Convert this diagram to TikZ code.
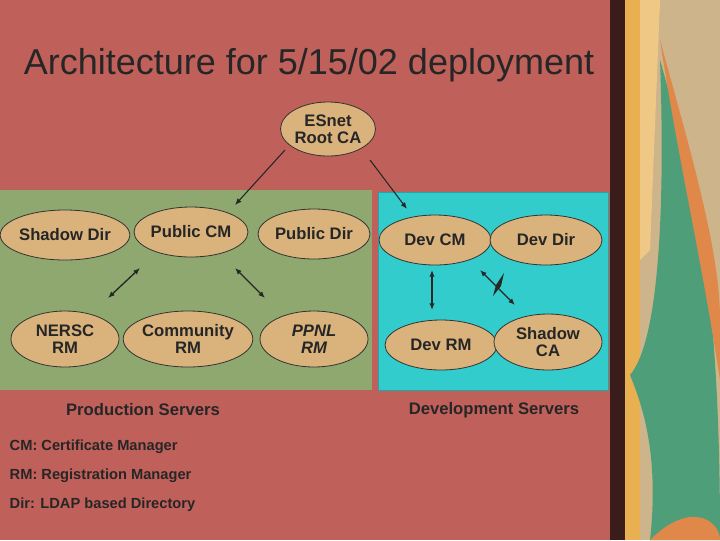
\documentclass[tikz,border=0pt]{standalone}
\usepackage{fontspec}
\setmainfont{Liberation Sans}
\usetikzlibrary{arrows.meta,shapes.geometric}
\definecolor{bgred}{HTML}{C0605A}
\definecolor{prodg}{HTML}{8FA870}
\definecolor{devc}{HTML}{33CCCC}
\definecolor{ell}{HTML}{D9B27C}
\definecolor{tanbg}{HTML}{CDB48A}
\definecolor{gold}{HTML}{E8B050}
\definecolor{sea}{HTML}{4E9E7A}
\definecolor{org}{HTML}{E0874A}
\begin{document}
\begin{tikzpicture}[x=0.75pt,y=-0.75pt,
  el/.style={ellipse, draw=black!80, fill=ell, line width=0.6pt, minimum width=112*0.75pt, minimum height=50*0.75pt, inner sep=0pt, align=center, font=\fontsize{12.5}{13}\selectfont\bfseries, text=black!85},
  arr/.style={{Latex[length=5pt,width=4pt]}-{Latex[length=5pt,width=4pt]}, line width=1pt, black!85},
  sarr/.style={-{Latex[length=5pt,width=4pt]}, line width=0.8pt, black!85},
  lab/.style={font=\fontsize{12.5}{13}\selectfont\bfseries, text=black!85},
  leg/.style={font=\fontsize{11}{12}\selectfont\bfseries, text=black!85, anchor=west}]
\useasboundingbox (0,0) rectangle (720,540);
\fill[bgred] (0,0) rectangle (720,540);
% decorative right strip
\fill[black!70!bgred] (610,0) rectangle (625,540);
\fill[tanbg] (625,0) rectangle (720,540);
\fill[gold] (625,0) rectangle (640,540);
\fill[gold!70!white] (640,0) -- (660,0) -- (650,250) -- (640,260) -- cycle;
\fill[sea] (660,60) .. controls (700,200) and (720,300) .. (720,540) -- (650,540) .. controls (660,450) and (640,400) .. (630,375) .. controls (660,340) and (665,200) .. (660,60);
\fill[org] (660,40) .. controls (690,150) and (720,250) .. (720,320) -- (720,380) .. controls (700,250) and (680,170) .. (660,40);
\fill[org] (650,540) .. controls (690,500) and (720,520) .. (720,540) -- cycle;
% title
\node[font=\fontsize{27}{30}\selectfont, text=black!85] (title) at (309,65) {Architecture for 5/15/02 deployment};
% regions
\fill[prodg] (0,190) rectangle (372,390);
\draw[devc!80!black, fill=devc] (378,192) rectangle (608,390);
% nodes
\node[el, minimum width=95*0.75pt, minimum height=54*0.75pt] (root) at (328,129) {ESnet\\Root CA};
\node[el, minimum width=118*0.75pt] (sdir) at (65,235) {Shadow Dir};
\node[el] (pcm) at (191,232) {Public CM};
\node[el] (pdir) at (314,234) {Public Dir};
\node[el] (dcm) at (435,240) {Dev CM};
\node[el] (ddir) at (546,240) {Dev Dir};
\node[el, minimum width=108*0.75pt, minimum height=56*0.75pt] (nersc) at (65,339) {NERSC\\RM};
\node[el, minimum width=112*0.75pt, minimum height=56*0.75pt] (crm) at (188,339) {Community\\RM};
\node[el, minimum width=108*0.75pt, minimum height=56*0.75pt] (ppnl) at (314,339) {\itshape PPNL\\\itshape RM};
\node[el] (drm) at (441,345) {Dev RM};
\node[el, minimum width=108*0.75pt, minimum height=56*0.75pt] (sca) at (548,342) {Shadow\\CA};
% arrows
\coordinate (a1s) at (285,150); \coordinate (a1e) at (235,205);
\coordinate (a2s) at (370,160); \coordinate (a2e) at (407,209);
\draw[sarr] (a1s) -- (a1e);
\draw[sarr] (a2s) -- (a2e);
\coordinate (b1) at (140,268); \coordinate (b2) at (108,298);
\coordinate (c1) at (235,268); \coordinate (c2) at (265,298);
\coordinate (d1) at (432,270); \coordinate (d2) at (432,310);
\coordinate (e1) at (480,270); \coordinate (e2) at (515,305);
\draw[arr] (b1) -- (b2);
\draw[arr] (c1) -- (c2);
\draw[arr] (d1) -- (d2);
\draw[arr] (e1) -- (e2);
\fill[black!85] (493,296) -- (496,285) -- (504,273) -- (501,286) -- cycle;
% labels
\node[lab] (prod) at (143,410) {Production Servers};
\node[lab] (dev) at (494,410) {Development Servers};
\node[leg] (l1) at (5,447) {CM: Certificate Manager};
\node[leg] (l2) at (5,476) {RM: Registration Manager};
\node[leg] (l3) at (5,505) {Dir: LDAP based Directory};
\end{tikzpicture}
\end{document}
